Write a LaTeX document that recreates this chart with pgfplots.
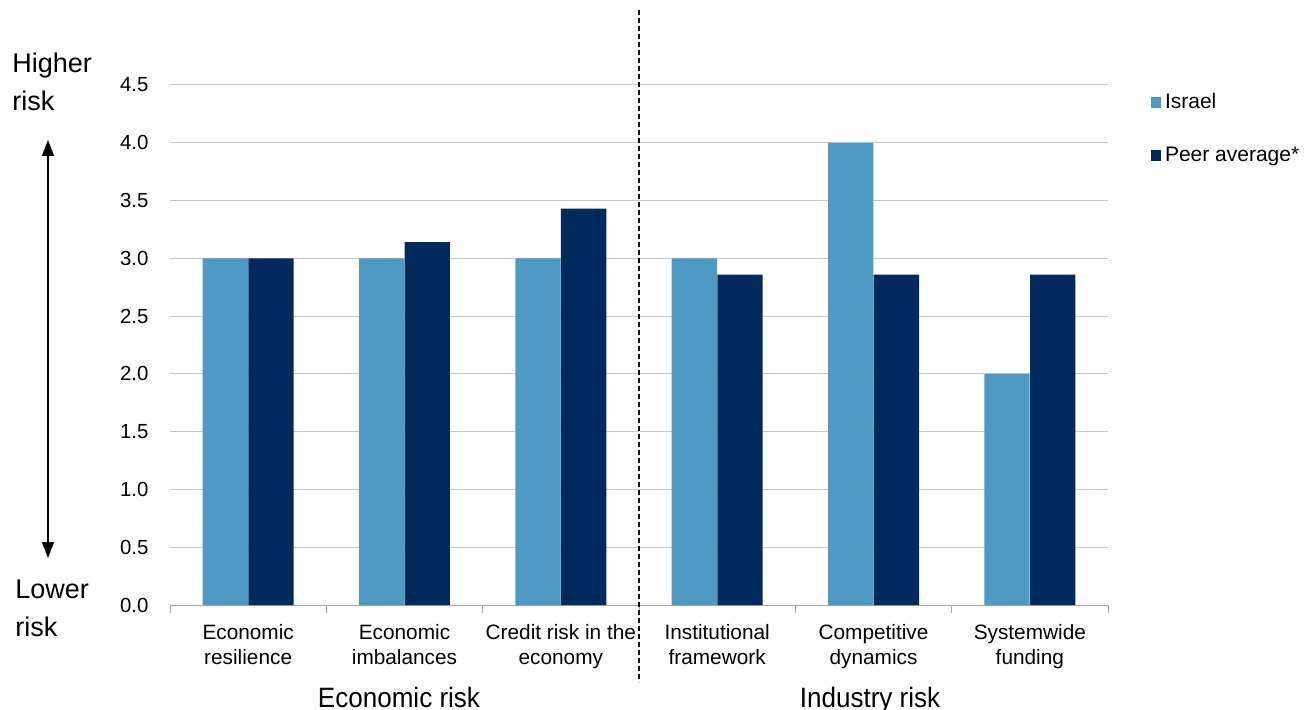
\documentclass[border=0pt]{standalone}
\usepackage{pgfplots}
\pgfplotsset{compat=1.18}
\usepackage{fontspec}
\setmainfont{Liberation Sans}
\usetikzlibrary{arrows.meta}
\definecolor{israel}{RGB}{78,154,196}
\definecolor{peer}{RGB}{0,42,92}
\definecolor{gridc}{RGB}{200,200,200}
\begin{document}
\begin{tikzpicture}
\path[use as bounding box] (0,0) rectangle (652pt,-355pt);
\begin{axis}[
  at={(85pt,-302.5pt)}, anchor=south west,
  scale only axis, width=469pt, height=260pt,
  ybar, bar width=0.29,
  xmin=-0.5, xmax=5.5, ymin=0, ymax=4.5,
  ytick={0,0.5,...,4.5},
  xtick={0,1,2,3,4,5},
  xticklabels={{Economic\\resilience},{Economic\\imbalances},{Credit risk in the\\economy},{Institutional\\framework},{Competitive\\dynamics},{Systemwide\\funding}},
  xticklabel style={align=center, font=\fontsize{10.4}{12.5}\selectfont, yshift=-2pt},
  yticklabel style={font=\fontsize{10.2}{12}\selectfont, xshift=-3pt},
  /pgf/number format/assume math mode=true,
  /pgf/number format/.cd, fixed, fixed zerofill, precision=1, /pgfplots/.cd,
  major x tick style={draw=none},
  minor xtick={-0.5,0.5,...,5.5},
  minor x tick style={draw=gray!70, line width=0.5pt},
  minor tick length=4pt,
  tick align=outside,
  major y tick style={draw=none},
  ymajorgrids, grid style={gridc, line width=0.5pt},
  axis x line*=bottom, axis y line*=left,
  x axis line style={gray!70, line width=0.5pt},
  y axis line style={draw=none},
  clip=false,
  legend style={at={(1.045,0.992)}, anchor=north west, draw=none, fill=none,
    font=\fontsize{10.5}{12}\selectfont, row sep=13.5pt, inner sep=0pt},
  legend cell align=left,
  legend image code/.code={\fill[#1] (0pt,-2.6pt) rectangle (5.2pt,2.6pt);},
]
\addplot[fill=israel, draw=none, bar shift=-0.146] coordinates {(0,3) (1,3) (2,3) (3,3) (4,4) (5,2)};
\addplot[fill=peer, draw=none, bar shift=0.146] coordinates {(0,3) (1,3.14) (2,3.43) (3,2.86) (4,2.86) (5,2.86)};
\legend{Israel, Peer average*}
\end{axis}
\begin{scope}[x=0.5pt,y=-0.5pt]
\draw[black, line width=0.75pt, dash pattern=on 2.4pt off 1.6pt] (639,10) -- (639,682);
\draw[black, line width=0.55pt, {Triangle[width=6pt,length=8pt]}-{Triangle[width=6pt,length=8pt]}] (48,140) -- (48,558);
\node[anchor=base west, inner sep=0pt, font=\fontsize{13.5}{16}\selectfont] at (12,73) {Higher};
\node[anchor=base west, inner sep=0pt, font=\fontsize{13.5}{16}\selectfont] at (12,111) {risk};
\node[anchor=base west, inner sep=0pt, font=\fontsize{13.5}{16}\selectfont] at (15,598) {Lower};
\node[anchor=base west, inner sep=0pt, font=\fontsize{13.5}{16}\selectfont] at (15,636) {risk};
\node[anchor=base, font=\fontsize{14}{16}\selectfont, inner sep=0pt, xscale=0.93] at (399,707) {Economic risk};
\node[anchor=base, font=\fontsize{14}{16}\selectfont, inner sep=0pt, xscale=0.93] at (870,707) {Industry risk};
\end{scope}
\end{tikzpicture}
\end{document}
